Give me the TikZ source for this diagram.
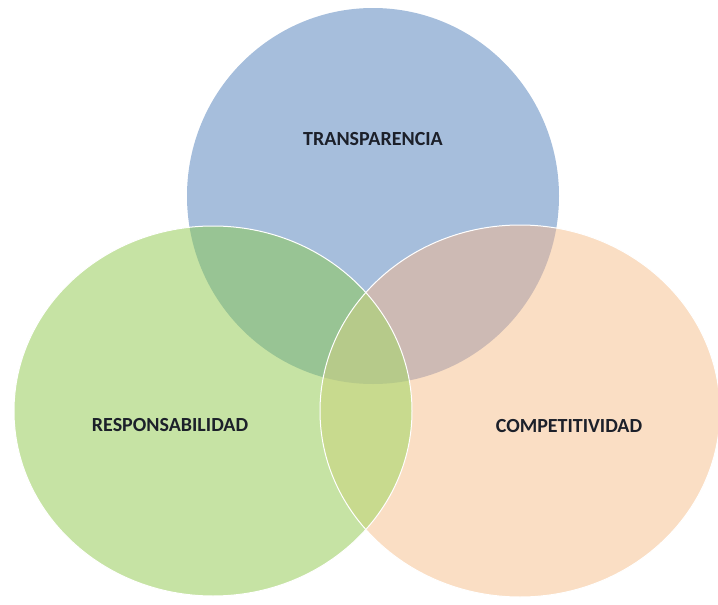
\documentclass[tikz,border=0pt]{standalone}
\usepackage{fontspec}
\setmainfont{Carlito}
\definecolor{bluefill}{RGB}{166,190,220}
\definecolor{greenfill}{RGB}{198,227,164}
\definecolor{orangefill}{RGB}{250,222,196}
\definecolor{bluegreen}{RGB}{152,196,148}
\definecolor{blueorange}{RGB}{205,186,180}
\definecolor{greenorange}{RGB}{200,218,142}
\definecolor{allthree}{RGB}{182,202,138}
\definecolor{labeltext}{RGB}{28,32,42}
\tikzset{%
  lbl/.style={font=\fontsize{20}{20}\selectfont\bfseries, text=labeltext, inner sep=0pt},
  rim/.style={draw=white, line width=1pt},
}
\begin{document}
\begin{tikzpicture}[x=1pt,y=-1pt]
  \useasboundingbox (0,0) rectangle (718,605);
  \coordinate (T) at (373,196);
  \coordinate (R) at (213,411);
  \coordinate (C) at (520,411);
  % the three sets
  \fill[bluefill] (T) ellipse [x radius=186pt, y radius=188pt];
  \fill[greenfill] (R) ellipse [x radius=199pt, y radius=185pt];
  \fill[orangefill] (C) ellipse [x radius=200pt, y radius=186pt];
  % overlaps
  \begin{scope}
    \clip (T) ellipse [x radius=186pt, y radius=188pt];
    \fill[bluegreen] (R) ellipse [x radius=199pt, y radius=185pt];
    \fill[blueorange] (C) ellipse [x radius=200pt, y radius=186pt];
  \end{scope}
  \begin{scope}
    \clip (R) ellipse [x radius=199pt, y radius=185pt];
    \fill[greenorange] (C) ellipse [x radius=200pt, y radius=186pt];
    \clip (T) ellipse [x radius=186pt, y radius=188pt];
    \fill[allthree] (C) ellipse [x radius=200pt, y radius=186pt];
  \end{scope}
  \draw[rim] (R) ellipse [x radius=199pt, y radius=185pt];
  \draw[rim] (C) ellipse [x radius=200pt, y radius=186pt];
  % labels
  \node[lbl] (transparencia) at (373,139) {TRANSPARENCIA};
  \node[lbl] (responsabilidad) at (170,425) {RESPONSABILIDAD};
  \node[lbl] (competitividad) at (569,426) {COMPETITIVIDAD};
\end{tikzpicture}
\end{document}
